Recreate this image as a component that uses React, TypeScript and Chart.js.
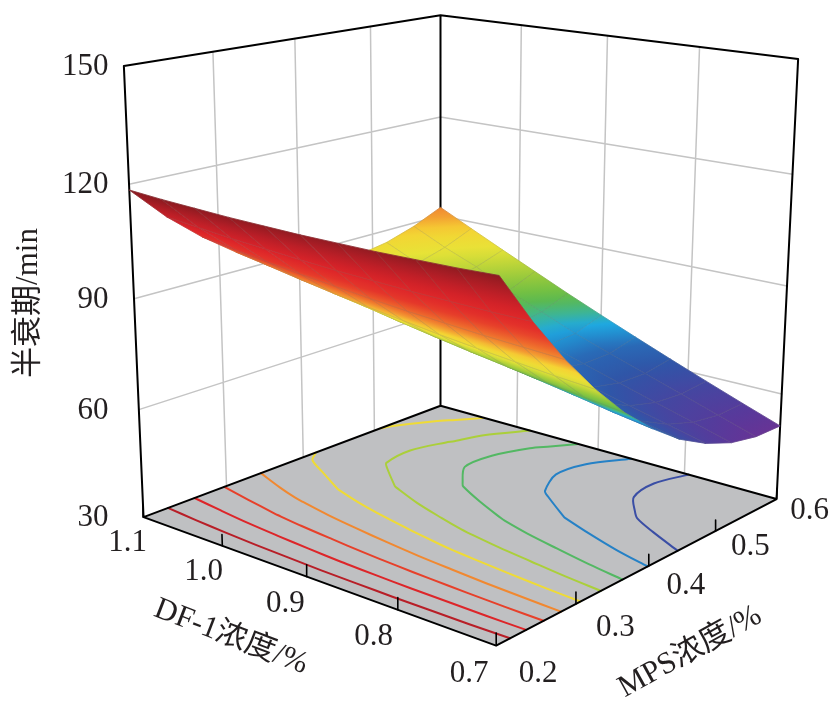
import React, { useEffect, useRef } from "react";
import { Chart, registerables } from "chart.js";

Chart.register(...registerables);

// ---------------- data ----------------
const dfValues = [0.70, 0.74, 0.78, 0.82, 0.86, 0.90, 0.94, 0.98, 1.02, 1.06, 1.10];
const mpsValues = [0.20, 0.24, 0.28, 0.32, 0.36, 0.40, 0.44, 0.48, 0.52, 0.56, 0.60];
// 半衰期 (min): one row per DF-1 value, one column per MPS value
const halfLife = [
  [117.5, 104.4, 92.7, 82.5, 73.6, 66.3, 60.3, 55.9, 52.8, 51.2, 51.0],
  [117.1, 104.4, 93.2, 83.3, 74.9, 67.9, 62.4, 58.3, 55.7, 54.5, 54.7],
  [116.9, 104.6, 93.7, 84.3, 76.3, 69.7, 64.5, 60.7, 58.5, 57.8, 58.5],
  [116.7, 104.8, 94.4, 85.3, 77.6, 71.4, 66.6, 63.2, 61.4, 61.1, 62.4],
  [116.7, 105.2, 95.1, 86.4, 79.1, 73.3, 68.7, 65.8, 64.3, 64.4, 66.4],
  [116.7, 105.6, 96.0, 87.7, 80.7, 75.3, 71.0, 68.3, 67.3, 67.8, 70.5],
  [116.9, 106.2, 97.0, 89.0, 82.4, 77.1, 73.3, 71.0, 70.6, 71.8, 74.7],
  [117.1, 106.9, 98.0, 90.4, 84.2, 79.3, 75.8, 74.0, 74.2, 75.8, 79.1],
  [117.5, 107.6, 99.2, 92.0, 86.2, 82.0, 78.7, 78.4, 79.2, 80.8, 83.5],
  [117.9, 108.5, 100.5, 93.7, 88.4, 84.4, 82.0, 81.3, 82.2, 84.6, 88.0],
  [118.5, 109.4, 101.8, 95.3, 90.6, 86.7, 85.1, 85.0, 86.4, 89.0, 92.6],
];
const halfLifeTicks = [30, 60, 90, 120, 150];
const dfTicks = [1.1, 1.0, 0.9, 0.8, 0.7];
const mpsTicks = [0.2, 0.3, 0.4, 0.5, 0.6];
const contourLevels = [112, 105.5, 99, 92.5, 86, 79.5, 73, 66.5, 60];

const zTitle = "半衰期/min";
const dfTitle = "DF-1浓度/%";
const mpsTitle = "MPS浓度/%";

// ---------------- styling / layout ----------------
const DF_RANGE = [0.7, 1.1];
const MPS_RANGE = [0.2, 0.6];
const Z_RANGE = [30, 150];
const W = 830;
const H = 707;
const FONT = '31px "Liberation Serif", "Times New Roman", "Noto Sans CJK SC", serif';
const FLOOR_COLOR = "#bfc0c2";
const GRID_COLOR = "#c4c4c4";
const EDGE_COLOR = "#000000";

const colorStops: [number, string][] = [
  [50, "#6d3193"],
  [54, "#573a9b"],
  [58, "#4546a1"],
  [62, "#2f56a8"],
  [65, "#2a68b5"],
  [67, "#2389cc"],
  [69, "#1fa8e0"],
  [71, "#3bb59a"],
  [74, "#5fba47"],
  [79, "#a4cd3a"],
  [84, "#e8e337"],
  [88, "#f5d233"],
  [91, "#f39a32"],
  [95, "#ee6a2c"],
  [100, "#e5362a"],
  [106, "#dc2329"],
  [112, "#b81e27"],
  [118, "#8a1a20"],
];

// box anchor geometry: normalized (X = DF, Y = MPS, Z = half-life) -> page position
const boxAnchors: number[][] = [
  [1, 0, 0, 143, 517], [0, 0, 0, 497, 647], [0, 1, 0, 775, 500], [1, 1, 0, 441, 408],
  [1, 0, 1, 124, 66], [1, 1, 1, 440, 15], [0, 1, 1, 798, 59],
  [1, 0, 0.75, 129, 186], [1, 0, 0.5, 135, 298], [1, 0, 0.25, 138, 410], [1, 1, 0.75, 440, 117],
  [0.75, 0, 0, 222, 547], [0.5, 0, 0, 306, 577], [0.25, 0, 0, 397, 608],
  [0, 0.25, 0, 577, 603], [0, 0.5, 0, 649, 565], [0, 0.75, 0, 715, 532],
  [1, 0.25, 0, 227, 485], [1, 0.5, 0, 303, 457], [1, 0.75, 0, 375, 428],
  [0.75, 1, 0, 517, 428], [0.5, 1, 0, 598, 448], [0.25, 1, 0, 685, 474],
  [0.75, 1, 1, 522, 25], [0.5, 1, 1, 608, 35], [0.25, 1, 1, 699, 47],
];
// label offsets (px) at the two ends of each floor axis
const dfLabelOffset = { atMin: [-27, 28], atMax: [-16, 26] };
const mpsLabelOffset = { atMin: [42, 28], atMax: [33, 12] };

const nx = (d: number) => (d - DF_RANGE[0]) / (DF_RANGE[1] - DF_RANGE[0]);
const ny = (m: number) => (m - MPS_RANGE[0]) / (MPS_RANGE[1] - MPS_RANGE[0]);
const nz = (z: number) => (z - Z_RANGE[0]) / (Z_RANGE[1] - Z_RANGE[0]);

function fitCamera(anchors: number[][]): number[] {
  const n = 11;
  const N: number[][] = Array.from({ length: n }, () => new Array(n + 1).fill(0));
  const addRow = (row: number[], rhs: number) => {
    for (let a = 0; a < n; a++) {
      for (let b = 0; b < n; b++) N[a][b] += row[a] * row[b];
      N[a][n] += row[a] * rhs;
    }
  };
  for (const [X, Y, Z, x, y] of anchors) {
    addRow([X, Y, Z, 1, 0, 0, 0, 0, -x * X, -x * Y, -x * Z], x);
    addRow([0, 0, 0, 0, X, Y, Z, 1, -y * X, -y * Y, -y * Z], y);
  }
  for (let c = 0; c < n; c++) {
    let piv = c;
    for (let r = c + 1; r < n; r++) if (Math.abs(N[r][c]) > Math.abs(N[piv][c])) piv = r;
    const tmp = N[c]; N[c] = N[piv]; N[piv] = tmp;
    for (let r = 0; r < n; r++) {
      if (r === c) continue;
      const f = N[r][c] / N[c][c];
      for (let k = c; k <= n; k++) N[r][k] -= f * N[c][k];
    }
  }
  return N.map((row, i) => row[n] / row[i]);
}

const cam = fitCamera(boxAnchors);
function project(X: number, Y: number, Z: number) {
  const w = cam[8] * X + cam[9] * Y + cam[10] * Z + 1;
  return {
    x: (cam[0] * X + cam[1] * Y + cam[2] * Z + cam[3]) / w,
    y: (cam[4] * X + cam[5] * Y + cam[6] * Z + cam[7]) / w,
    w,
  };
}
const farSign = project(1, 1, 0).w > project(0, 0, 0).w ? 1 : -1;

function hexToRgb(h: string) {
  const v = parseInt(h.slice(1), 16);
  return [(v >> 16) & 255, (v >> 8) & 255, v & 255];
}
function colorAt(z: number) {
  if (z <= colorStops[0][0]) return colorStops[0][1];
  const last = colorStops[colorStops.length - 1];
  if (z >= last[0]) return last[1];
  for (let i = 0; i < colorStops.length - 1; i++) {
    const [z0, c0] = colorStops[i];
    const [z1, c1] = colorStops[i + 1];
    if (z >= z0 && z <= z1) {
      const t = (z - z0) / (z1 - z0);
      const a = hexToRgb(c0), b = hexToRgb(c1);
      const r = a.map((v, k) => Math.round(v + (b[k] - v) * t));
      return `rgb(${r[0]},${r[1]},${r[2]})`;
    }
  }
  return last[1];
}

type Pt = { x: number; y: number };
const GAP: Pt = { x: NaN, y: NaN };
function segs3d(list: number[][][]): Pt[] {
  const out: Pt[] = [];
  list.forEach((seg, k) => {
    if (k > 0) out.push(GAP);
    seg.forEach((p) => {
      const q = project(p[0], p[1], p[2]);
      out.push({ x: q.x, y: q.y });
    });
  });
  return out;
}

// marching squares on the grid, chained into polylines
function contourLines(level: number): number[][][] {
  const segs: number[][][] = [];
  for (let i = 0; i < dfValues.length - 1; i++) {
    for (let j = 0; j < mpsValues.length - 1; j++) {
      const c = [[i, j], [i + 1, j], [i + 1, j + 1], [i, j + 1]];
      const pts: number[][] = [];
      for (let e = 0; e < 4; e++) {
        const [ia, ja] = c[e];
        const [ib, jb] = c[(e + 1) % 4];
        const va = halfLife[ia][ja] - level;
        const vb = halfLife[ib][jb] - level;
        if ((va < 0) !== (vb < 0)) {
          const t = va / (va - vb);
          const d = dfValues[ia] + t * (dfValues[ib] - dfValues[ia]);
          const m = mpsValues[ja] + t * (mpsValues[jb] - mpsValues[ja]);
          pts.push([nx(d), ny(m), 0]);
        }
      }
      if (pts.length === 2) segs.push(pts);
      else if (pts.length === 4) { segs.push([pts[0], pts[1]]); segs.push([pts[2], pts[3]]); }
    }
  }
  const same = (a: number[], b: number[]) => Math.abs(a[0] - b[0]) < 1e-9 && Math.abs(a[1] - b[1]) < 1e-9;
  const lines: number[][][] = [];
  const used = new Array(segs.length).fill(false);
  for (let s = 0; s < segs.length; s++) {
    if (used[s]) continue;
    used[s] = true;
    const line = [segs[s][0], segs[s][1]];
    let grown = true;
    while (grown) {
      grown = false;
      for (let k = 0; k < segs.length; k++) {
        if (used[k]) continue;
        const [a, b] = segs[k];
        const head = line[0], tail = line[line.length - 1];
        if (same(a, tail)) { line.push(b); }
        else if (same(b, tail)) { line.push(a); }
        else if (same(a, head)) { line.unshift(b); }
        else if (same(b, head)) { line.unshift(a); }
        else continue;
        used[k] = true;
        grown = true;
      }
    }
    lines.push(line);
  }
  return lines;
}

function lineDataset(label: string, data: Pt[], color: string, width: number, order: number, tension = 0) {
  return {
    label, data, order, tension,
    showLine: true,
    borderColor: color,
    borderWidth: width,
    pointRadius: 0,
    pointHoverRadius: 0,
    fill: false,
    spanGaps: false,
    borderCapStyle: "round" as const,
    borderJoinStyle: "round" as const,
  };
}

function buildDatasets() {
  const innerDf = dfTicks.slice(1, -1).map(nx);
  const innerMps = mpsTicks.slice(1, -1).map(ny);
  const innerZ = halfLifeTicks.slice(1, -1).map(nz);
  const grid: number[][][] = [];
  innerMps.forEach((Y) => grid.push([[1, Y, 0], [1, Y, 1]]));
  innerZ.forEach((Z) => grid.push([[1, 0, Z], [1, 1, Z]]));
  innerDf.forEach((X) => grid.push([[X, 1, 0], [X, 1, 1]]));
  innerZ.forEach((Z) => grid.push([[0, 1, Z], [1, 1, Z]]));

  const edges: number[][][] = [
    [[1, 0, 1], [1, 1, 1]], [[1, 1, 1], [0, 1, 1]],
    [[1, 0, 0], [1, 0, 1]], [[1, 1, 0], [1, 1, 1]], [[0, 1, 0], [0, 1, 1]],
    [[1, 0, 0], [1, 1, 0]], [[1, 1, 0], [0, 1, 0]],
    [[1, 0, 0], [0, 0, 0]], [[0, 0, 0], [0, 1, 0]],
  ];
  const ticks: number[][][] = [];
  dfTicks.forEach((d) => ticks.push([[nx(d), 0, 0], [nx(d), 0, 0.026]]));
  mpsTicks.forEach((m) => ticks.push([[0, ny(m), 0], [0, ny(m), 0.026]]));

  const ds: any[] = [];
  ds.push(lineDataset("walls", segs3d(grid), GRID_COLOR, 1.5, 50));
  contourLevels.forEach((lv, k) =>
    ds.push(lineDataset(`contour ${lv}`, segs3d(contourLines(lv)), colorAt(lv), 2, 30 - k * 0.1, 0.3))
  );
  ds.push(lineDataset("box", segs3d(edges), EDGE_COLOR, 2, 10));
  ds.push(lineDataset("ticks", segs3d(ticks), EDGE_COLOR, 1.6, 5));
  return ds;
}

const floorPlugin = {
  id: "floor",
  beforeDatasetsDraw(chart: any) {
    const { ctx, scales } = chart;
    const sx = scales.x, sy = scales.y;
    const pts = [[0, 0, 0], [1, 0, 0], [1, 1, 0], [0, 1, 0]].map((p) => project(p[0], p[1], p[2]));
    ctx.save();
    ctx.beginPath();
    pts.forEach((p, k) => {
      const X = sx.getPixelForValue(p.x), Y = sy.getPixelForValue(p.y);
      if (k === 0) ctx.moveTo(X, Y); else ctx.lineTo(X, Y);
    });
    ctx.closePath();
    ctx.fillStyle = FLOOR_COLOR;
    ctx.fill();
    ctx.restore();
  },
};

const surfacePlugin = {
  id: "surface",
  afterDatasetsDraw(chart: any) {
    const { ctx, scales } = chart;
    const sx = scales.x, sy = scales.y;
    const quads: { p: Pt[]; z: number[]; w: number }[] = [];
    for (let i = 0; i < dfValues.length - 1; i++) {
      for (let j = 0; j < mpsValues.length - 1; j++) {
        const c = [[i, j], [i + 1, j], [i + 1, j + 1], [i, j + 1]];
        let wsum = 0;
        const p: Pt[] = [];
        const z: number[] = [];
        c.forEach(([a, b]) => {
          const v = halfLife[a][b];
          const q = project(nx(dfValues[a]), ny(mpsValues[b]), nz(v));
          wsum += q.w;
          p.push({ x: sx.getPixelForValue(q.x), y: sy.getPixelForValue(q.y) });
          z.push(v);
        });
        quads.push({ p, z, w: (wsum / 4) * farSign });
      }
    }
    quads.sort((a, b) => b.w - a.w);
    ctx.save();
    ctx.lineJoin = "round";
    for (const q of quads) {
      const xc = q.p.reduce((s, v) => s + v.x, 0) / 4;
      const yc = q.p.reduce((s, v) => s + v.y, 0) / 4;
      const zc = q.z.reduce((s, v) => s + v, 0) / 4;
      let sxx = 0, sxy = 0, syy = 0, sxz = 0, syz = 0;
      q.p.forEach((v, k) => {
        const dx = v.x - xc, dy = v.y - yc, dz = q.z[k] - zc;
        sxx += dx * dx; sxy += dx * dy; syy += dy * dy; sxz += dx * dz; syz += dy * dz;
      });
      const det = sxx * syy - sxy * sxy;
      const zmin = Math.min(...q.z), zmax = Math.max(...q.z);
      let fill: any = colorAt(zc);
      if (Math.abs(det) > 1e-6 && zmax - zmin > 0.05) {
        const bx = (sxz * syy - syz * sxy) / det;
        const by = (syz * sxx - sxz * sxy) / det;
        const g2 = bx * bx + by * by;
        if (g2 > 1e-9 && isFinite(g2)) {
          const x0 = xc + (bx * (zmin - zc)) / g2, y0 = yc + (by * (zmin - zc)) / g2;
          const x1 = xc + (bx * (zmax - zc)) / g2, y1 = yc + (by * (zmax - zc)) / g2;
          if ([x0, y0, x1, y1].every(isFinite)) {
            const grad = ctx.createLinearGradient(x0, y0, x1, y1);
            for (let s = 0; s <= 4; s++) grad.addColorStop(s / 4, colorAt(zmin + ((zmax - zmin) * s) / 4));
            fill = grad;
          }
        }
      }
      ctx.beginPath();
      q.p.forEach((v, k) => (k === 0 ? ctx.moveTo(v.x, v.y) : ctx.lineTo(v.x, v.y)));
      ctx.closePath();
      ctx.fillStyle = fill;
      ctx.fill();
      ctx.strokeStyle = fill;
      ctx.lineWidth = 0.8;
      ctx.stroke();
      ctx.strokeStyle = "rgba(110,110,110,0.3)";
      ctx.lineWidth = 0.6;
      ctx.stroke();
    }
    ctx.restore();
  },
};

const textPlugin = {
  id: "texts",
  afterDraw(chart: any) {
    const { ctx, scales } = chart;
    const sx = scales.x, sy = scales.y;
    const px = (X: number, Y: number, Z: number) => {
      const q = project(X, Y, Z);
      return { x: sx.getPixelForValue(q.x), y: sy.getPixelForValue(q.y) };
    };
    const lerp = (a: number[], b: number[], t: number) => [a[0] + (b[0] - a[0]) * t, a[1] + (b[1] - a[1]) * t];
    ctx.save();
    ctx.fillStyle = "#231f20";
    ctx.font = FONT;
    ctx.textBaseline = "middle";
    // half-life axis
    ctx.textAlign = "right";
    const zx = px(1, 0, 0).x - 35;
    halfLifeTicks.forEach((t) => ctx.fillText(String(t), zx, px(1, 0, nz(t)).y + 1));
    // DF-1 axis
    ctx.textAlign = "center";
    dfTicks.forEach((t) => {
      const X = nx(t);
      const p = px(X, 0, 0);
      const o = lerp(dfLabelOffset.atMin, dfLabelOffset.atMax, X);
      ctx.fillText(t.toFixed(1), p.x + o[0], p.y + o[1]);
    });
    // MPS axis
    mpsTicks.forEach((t) => {
      const Y = ny(t);
      const p = px(0, Y, 0);
      const o = lerp(mpsLabelOffset.atMin, mpsLabelOffset.atMax, Y);
      ctx.fillText(t.toFixed(1), p.x + o[0], p.y + o[1]);
    });
    // titles
    const rot = (text: string, x: number, y: number, ang: number) => {
      ctx.save();
      ctx.translate(x, y);
      ctx.rotate((ang * Math.PI) / 180);
      ctx.textAlign = "center";
      ctx.textBaseline = "middle";
      ctx.fillText(text, 0, 0);
      ctx.restore();
    };
    rot(zTitle, 29, 303, -90);
    rot(dfTitle, 231, 637, 21);
    rot(mpsTitle, 690, 652, -29);
    ctx.restore();
  },
};

export default function App() {
  const ref = useRef<HTMLCanvasElement>(null);
  useEffect(() => {
    if (!ref.current) return;
    const chart = new Chart(ref.current, {
      type: "scatter",
      data: { datasets: buildDatasets() },
      options: {
        responsive: false,
        maintainAspectRatio: false,
        animation: false,
        layout: { padding: 0 },
        events: [],
        scales: {
          x: { type: "linear", min: 0, max: W, display: false },
          y: { type: "linear", min: 0, max: H, reverse: true, display: false },
        },
        plugins: { legend: { display: false }, tooltip: { enabled: false }, title: { display: false } },
      },
      plugins: [floorPlugin, surfacePlugin, textPlugin],
    } as any);
    return () => chart.destroy();
  }, []);
  return (
    <div style={{ position: "absolute", left: 0, top: 0, width: W, height: H, background: "#ffffff" }}>
      <canvas ref={ref} width={W} height={H} style={{ width: W, height: H, display: "block" }} />
    </div>
  );
}
